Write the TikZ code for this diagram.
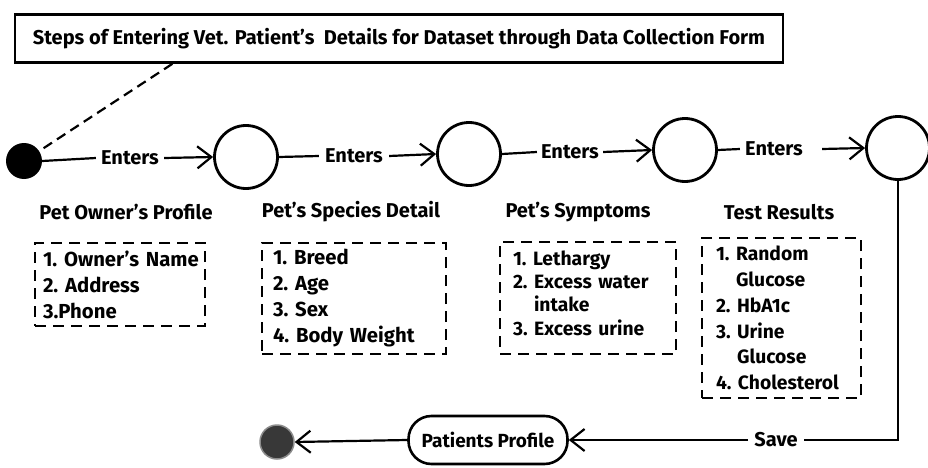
\documentclass[tikz,border=0pt]{standalone}
\usepackage{fontspec}
\setmainfont{Fira Sans}
\usetikzlibrary{arrows.meta,calc}
\begin{document}
\begin{tikzpicture}[x=1pt,y=-1pt,
  txt/.style={font=\bfseries\fontsize{20}{22}\selectfont, inner sep=0pt},
  stcircle/.style={circle, draw, line width=2.8pt, minimum size=63pt, inner sep=0pt, fill=white},
  conn/.style={line width=2.2pt},
  arr/.style={conn, -{Straight Barb[length=14pt,width=22pt,line width=2.2pt]}},
  dashframe/.style={draw, line width=2.6pt, dash pattern=on 11pt off 7pt},
  dbox/.style={dashframe, align=left,
    font=\bfseries\fontsize{20.3}{26}\selectfont, inner ysep=0pt}
]
\useasboundingbox (0,0) rectangle (928,468);
% title
\node[draw, line width=2.6pt, minimum width=768pt, minimum height=48pt, inner sep=0pt,
  font=\bfseries\fontsize{20}{22}\selectfont] (title) at (399,38.5)
  {Steps of Entering Vet. Patient's\ \ Details for Dataset through Data Collection Form};
% states
\node[circle, fill=black, minimum size=36pt, inner sep=0pt] (start) at (24,161) {};
\node[stcircle] (c1) at (246,157) {};
\node[stcircle] (c2) at (469,154) {};
\node[stcircle] (c3) at (685,150) {};
\node[stcircle] (c4) at (898,148) {};
% dashed link
\draw[line width=2.2pt, dash pattern=on 10pt off 6pt]
  ($(title.south west)!0.206!(title.south east)$) -- (start);
% enters labels
\node[txt, inner xsep=5pt] (e1) at (130,158) {Enters};
\node[txt, inner xsep=6pt] (e2) at (354,156) {Enters};
\node[txt, inner xsep=4pt] (e3) at (570,152) {Enters};
\node[txt, inner xsep=5pt] (e4) at (774,149) {Enters};
\draw[conn] (start.east) -- (e1.west);
\draw[arr] (e1.east) -- (c1.west);
\draw[conn] (c1.east) -- (e2.west);
\draw[arr] (e2.east) -- (c2.west);
\draw[conn] (c2.east) -- (e3.west);
\draw[arr] (e3.east) -- (c3.west);
\draw[conn] (c3.east) -- (e4.west);
\draw[arr] ([xshift=14pt]e4.east) -- (c4.west);
% step labels
\node[txt] (l1) at (126,212) {Pet Owner's Profile};
\node[txt] (l2) at (351,212) {Pet's Species Detail};
\node[txt] (l3) at (578,212) {Pet's Symptoms};
\node[txt] (l4) at (779,212) {Test Results};
% dashed boxes
\node[dbox, inner xsep=8pt, text width=154pt, minimum height=83pt] (b1) at (120,284.5)
  {1.~Owner's~Name\\2.~Address\\3.Phone};
\node[dbox, inner xsep=11pt, text width=162pt, minimum height=111pt] (b2) at (354,298.5)
  {1.~Breed\\2.~Age\\3.~Sex\\4.~Body~Weight};
\node[dashframe, minimum width=176pt, minimum height=112pt, inner sep=0pt] (b3) at (588,298) {};
\node[align=left, inner sep=0pt, text width=150pt,
  font=\bfseries\fontsize{19.3}{23.3}\selectfont] (b3t) at (588,293)
  {1.~Lethargy\\2.~Excess~water\\\phantom{2.~}intake\\3.~Excess~urine};
\node[dbox, inner xsep=14pt, text width=131pt, minimum height=160pt,
  font=\bfseries\fontsize{19.3}{25.8}\selectfont] (b4) at (781.5,318)
  {1.~Random\\\phantom{1.~}Glucose\\2.~HbA1c\\3.~Urine\\\phantom{3.~}Glucose\\4.~Cholesterol};
% bottom flow
\node[draw, line width=2.6pt, rounded corners=23pt, minimum width=159pt, minimum height=48pt,
  inner sep=0pt, font=\bfseries\fontsize{19}{21}\selectfont, fill=white] (pp) at (488,440) {Patients Profile};
\node[circle, fill=black!78, draw=black!45, line width=1.5pt, minimum size=34pt, inner sep=0pt] (endn) at (277,442) {};
\node[txt, inner xsep=6pt] (save) at (776,440) {Save};
\coordinate (corner) at (c4 |- save);
\draw[conn] (c4.south) -- (corner) -- (save.east);
\draw[arr] (save.west) -- (pp.east);
\draw[arr] (pp.west) -- (endn.east);
\end{tikzpicture}
\end{document}
